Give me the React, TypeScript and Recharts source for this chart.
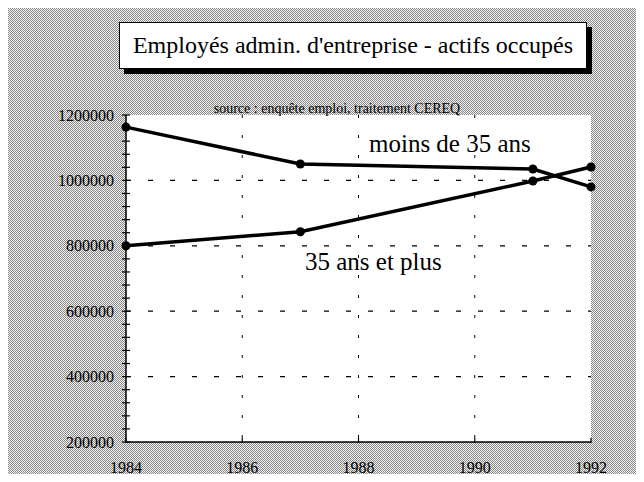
import { CartesianGrid, Line, LineChart, XAxis, YAxis } from 'recharts';

const years = [1984, 1987, 1991, 1992];
const moins35 = [1163000, 1050000, 1035000, 980000];
const plus35 = [800000, 843000, 998000, 1041000];
const xTicks = [1984, 1986, 1988, 1990, 1992];
const yMajor = [200000, 400000, 600000, 800000, 1000000, 1200000];
const gridX = [1986, 1988, 1990];
const gridY = [400000, 600000, 800000, 1000000];

const title = "Employés admin. d'entreprise - actifs occupés";
const source = 'source : enquête emploi, traitement CEREQ';
const labelMoins = 'moins de 35 ans';
const labelPlus = '35 ans et plus';

const data = years.map((year, i) => ({ year, moins: moins35[i], plus: plus35[i] }));

// 4 minor ticks between each labelled value
const yTicks = yMajor.flatMap((v, i) =>
  i === yMajor.length - 1 ? [v] : [v, v + 40000, v + 80000, v + 120000, v + 160000]
);

const serif = 'Liberation Serif, Times New Roman, serif';
const dither =
  "url(\"data:image/svg+xml,%3Csvg xmlns='http://www.w3.org/2000/svg' width='2' height='2'%3E%3Crect width='2' height='2' fill='%23f2f2f2'/%3E%3Crect width='1' height='1' fill='%23888'/%3E%3Crect x='1' y='1' width='1' height='1' fill='%23888'/%3E%3C/svg%3E\")";

function YTick({ x, y, payload }: any) {
  const major = yMajor.includes(payload.value);
  return (
    <g>
      <line x1={x - 4} x2={x + 4} y1={y} y2={y} stroke="#000" strokeWidth={1.2} />
      {major && (
        <text x={x - 12} y={y} dy="0.35em" textAnchor="end" fontSize={16} fontFamily={serif} fill="#000">
          {payload.value}
        </text>
      )}
    </g>
  );
}

function XTick({ x, y, payload }: any) {
  return (
    <g>
      <line x1={x} x2={x} y1={y - 4} y2={y + 1} stroke="#000" strokeWidth={1.2} />
      <text x={x} y={y + 25} dy="0.35em" textAnchor="middle" fontSize={16} fontFamily={serif} fill="#000">
        {payload.value}
      </text>
    </g>
  );
}

const textStyle = { position: 'absolute' as const, fontFamily: serif, color: '#000', whiteSpace: 'nowrap' as const };

export default function App() {
  return (
    <div
      style={{
        position: 'relative',
        width: 644,
        height: 482,
        margin: -8,
        boxSizing: 'border-box',
        borderLeft: '2px solid #000',
        borderRight: '2px solid #000',
        backgroundImage: dither,
        backgroundSize: '2px 2px',
        imageRendering: 'pixelated',
        overflow: 'hidden',
      }}
    >
      <div style={{ position: 'absolute', left: -2, top: 0 }}>
        <LineChart width={644} height={482} data={data} margin={{ top: 115, right: 53, bottom: 10, left: 66 }}>
          <CartesianGrid
            horizontal={false}
            verticalValues={gridX}
            stroke="#000"
            strokeDasharray="3 17"
            fill="#fff"
            fillOpacity={1}
          />
          <CartesianGrid vertical={false} horizontalValues={gridY} stroke="#000" strokeWidth={1.3} strokeDasharray="5 17" />
          <XAxis
            dataKey="year"
            type="number"
            domain={[1984, 1992]}
            ticks={xTicks}
            interval={0}
            height={30}
            tickSize={0}
            tickMargin={0}
            tick={<XTick />}
            axisLine={{ stroke: '#000', strokeWidth: 1.5 }}
          />
          <XAxis xAxisId="top" orientation="top" type="number" domain={[1984, 1992]} height={0} tick={false} tickLine={false} axisLine={{ stroke: '#000', strokeWidth: 1.2 }} />
          <YAxis
            type="number"
            domain={[200000, 1200000]}
            ticks={yTicks}
            interval={0}
            width={60}
            tickSize={0}
            tickMargin={0}
            tick={<YTick />}
            axisLine={{ stroke: '#000', strokeWidth: 1.5 }}
          />
          <YAxis yAxisId="right" orientation="right" type="number" domain={[200000, 1200000]} width={0} tick={false} tickLine={false} axisLine={{ stroke: '#000', strokeWidth: 1.2 }} />
          <Line dataKey="moins" stroke="#000" strokeWidth={3.5} dot={{ r: 4.5, fill: '#000', stroke: '#000', strokeWidth: 0 }} isAnimationActive={false} />
          <Line dataKey="plus" stroke="#000" strokeWidth={3.5} dot={{ r: 4.5, fill: '#000', stroke: '#000', strokeWidth: 0 }} isAnimationActive={false} />
        </LineChart>
      </div>
      <div
        style={{
          ...textStyle,
          left: 117,
          top: 22,
          width: 468,
          height: 47,
          boxSizing: 'border-box',
          background: '#fff',
          border: '1px solid #000',
          boxShadow: '5px 5px 0 #000',
          fontSize: 24,
          lineHeight: '45px',
          textAlign: 'center',
        }}
      >
        {title}
      </div>
      <div style={{ ...textStyle, left: 200, top: 101, width: 270, fontSize: 14, lineHeight: '16px', textAlign: 'center' }}>
        {source}
      </div>
      <div style={{ ...textStyle, left: 367, top: 129, fontSize: 25, lineHeight: '30px' }}>{labelMoins}</div>
      <div style={{ ...textStyle, left: 303, top: 247, fontSize: 25, lineHeight: '30px' }}>{labelPlus}</div>
    </div>
  );
}
